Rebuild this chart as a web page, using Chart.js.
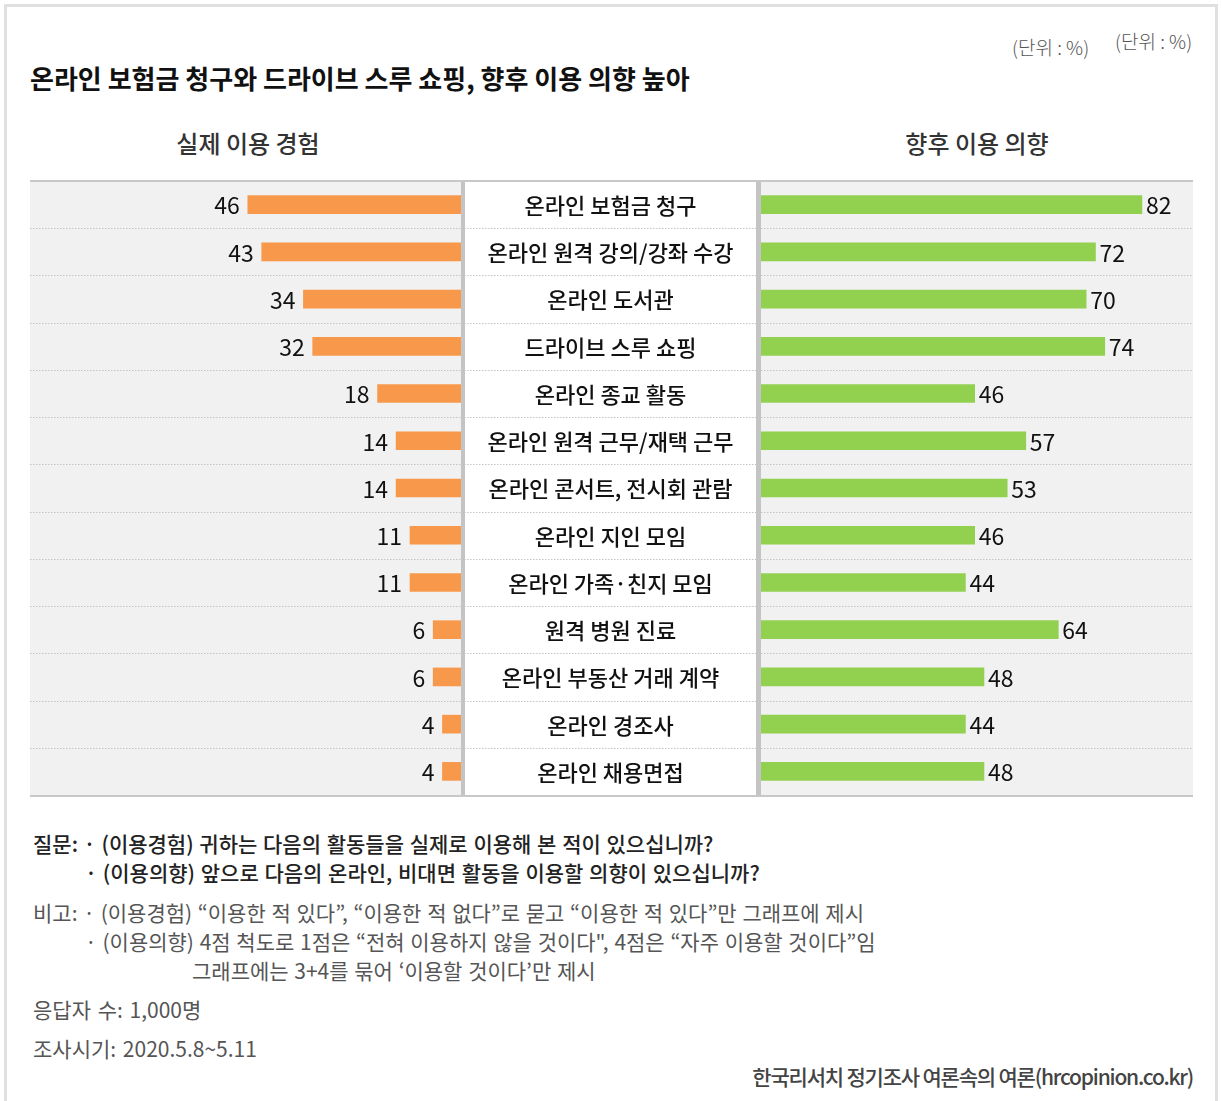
<!DOCTYPE html>
<html><head><meta charset="utf-8">
<script src="https://cdn.jsdelivr.net/npm/chart.js@4.4.1/dist/chart.umd.min.js"></script>
<style>
html,body{margin:0;padding:0;background:#fff;}
body{width:1221px;height:1101px;position:relative;overflow:hidden;font-family:"Noto Sans CJK KR","Noto Sans",sans-serif;}
.t{position:absolute;white-space:nowrap;letter-spacing:0;}
#frame{position:absolute;left:4px;top:4px;width:1208px;height:1200px;border:3px solid #e0e0e0;box-sizing:content-box;}
.cv{position:absolute;}
.n{font-size:21px;line-height:30px;color:#555;font-weight:400;word-spacing:1px;}
</style></head><body>
<div id="frame"></div>
<div class="t" style="left:30px;top:60px;font-size:26px;line-height:36px;font-weight:700;color:#111;">온라인 보험금 청구와 드라이브 스루 쇼핑, 향후 이용 의향 높아</div>
<div class="t" style="left:1012px;top:34px;font-size:19px;line-height:26px;color:#555;font-weight:300;">(단위 : %)</div>
<div class="t" style="left:1115px;top:28px;font-size:19px;line-height:26px;color:#555;font-weight:300;">(단위 : %)</div>
<div class="t" id="hl" style="top:127px;font-size:24px;line-height:32px;color:#333;font-weight:500;"></div>
<div class="t" id="hr" style="top:127px;font-size:24px;line-height:32px;color:#333;font-weight:500;"></div>

<div class="cv" style="left:30px;top:181px;width:431px;height:614px;"><canvas id="left"></canvas></div>
<div class="cv" style="left:461px;top:181px;width:732px;height:614px;"><canvas id="right"></canvas></div>
<div style="position:absolute;left:30px;top:180px;width:1163px;height:2px;background:#c8c8c8;"></div>
<div style="position:absolute;left:30px;top:795px;width:1163px;height:2px;background:#c8c8c8;"></div>

<div class="t n" style="left:33px;top:828px;color:#222;font-weight:500;">질문: · (이용경험) 귀하는 다음의 활동들을 실제로 이용해 본 적이 있으십니까?</div>
<div class="t n" style="left:85px;top:857px;color:#222;font-weight:500;">· (이용의향) 앞으로 다음의 온라인, 비대면 활동을 이용할 의향이 있으십니까?</div>
<div class="t n" style="left:33px;top:897px;">비고: · (이용경험) “이용한 적 있다”, “이용한 적 없다”로 묻고 “이용한 적 있다”만 그래프에 제시</div>
<div class="t n" style="left:85px;top:926px;">· (이용의향) 4점 척도로 1점은 “전혀 이용하지 않을 것이다", 4점은 “자주 이용할 것이다”임</div>
<div class="t n" style="left:192px;top:955px;">그래프에는 3+4를 묶어 ‘이용할 것이다’만 제시</div>
<div class="t n" style="left:33px;top:994px;word-spacing:2px;">응답자 수: 1,000명</div>
<div class="t n" style="left:33px;top:1033px;word-spacing:2px;">조사시기: 2020.5.8~5.11</div>
<div class="t" style="right:28px;top:1061px;font-size:21px;line-height:30px;color:#444;font-weight:500;letter-spacing:-1.2px;">한국리서치 정기조사 여론속의 여론(hrcopinion.co.kr)</div>

<script>
const categories = ["온라인 보험금 청구","온라인 원격 강의/강좌 수강","온라인 도서관","드라이브 스루 쇼핑","온라인 종교 활동","온라인 원격 근무/재택 근무","온라인 콘서트, 전시회 관람","온라인 지인 모임","온라인 가족·친지 모임","원격 병원 진료","온라인 부동산 거래 계약","온라인 경조사","온라인 채용면접"];
const experience = [46,43,34,32,18,14,14,11,11,6,6,4,4];
const intention = [82,72,70,74,46,57,53,46,44,64,48,44,48];
const seriesNames = ["실제 이용 경험","향후 이용 의향"];

const FONT = '"Noto Sans CJK KR","Noto Sans",sans-serif';
const hl = document.getElementById('hl'); hl.textContent = seriesNames[0];
const hr = document.getElementById('hr'); hr.textContent = seriesNames[1];
hl.style.left = '248px'; hl.style.transform = 'translateX(-50%)';
hr.style.left = '977px'; hr.style.transform = 'translateX(-50%)';

function rowLines(chart, x0, x1){
  const ctx = chart.ctx, y = chart.scales.y;
  ctx.save();
  ctx.strokeStyle = '#c4c4c4'; ctx.lineWidth = 1; ctx.setLineDash([1.5,1.5]);
  for (let i = 1; i < categories.length; i++){
    const p = Math.round((y.getPixelForValue(i-1) + y.getPixelForValue(i)) / 2) + 0.5;
    ctx.beginPath(); ctx.moveTo(x0, p); ctx.lineTo(x1, p); ctx.stroke();
  }
  ctx.restore();
}

const leftPlugin = {
  id:'leftDeco',
  beforeDatasetsDraw(chart){
    const ctx = chart.ctx, a = chart.chartArea;
    ctx.save(); ctx.fillStyle = '#f1f1f1'; ctx.fillRect(a.left, a.top, a.right-a.left, a.bottom-a.top); ctx.restore();
    rowLines(chart, a.left, a.right);
  },
  afterDatasetsDraw(chart){
    const ctx = chart.ctx, meta = chart.getDatasetMeta(0);
    ctx.save(); ctx.font = '400 23px ' + FONT; ctx.fillStyle = '#111'; ctx.textAlign = 'right'; ctx.textBaseline = 'middle';
    meta.data.forEach((b,i) => ctx.fillText(String(experience[i]), b.x - 8, b.y + 1));
    ctx.restore();
  }
};
const rightPlugin = {
  id:'rightDeco',
  beforeDatasetsDraw(chart){
    const ctx = chart.ctx, a = chart.chartArea;
    ctx.save();
    ctx.fillStyle = '#f1f1f1'; ctx.fillRect(a.left, a.top, a.right-a.left, a.bottom-a.top);
    ctx.fillStyle = '#fff'; ctx.fillRect(4, a.top, a.left-9, a.bottom-a.top);
    ctx.restore();
    rowLines(chart, 0, a.right);
    ctx.save();
    ctx.fillStyle = '#c4c4c4';
    ctx.fillRect(0, a.top, 4, a.bottom-a.top);
    ctx.fillRect(a.left-5, a.top, 5, a.bottom-a.top);
    const y = chart.scales.y;
    ctx.font = '500 22px ' + FONT; ctx.fillStyle = '#111'; ctx.textAlign = 'center'; ctx.textBaseline = 'middle';
    const cx = (4 + a.left - 5) / 2;
    categories.forEach((c,i) => ctx.fillText(c, cx, y.getPixelForValue(i) + 1));
    ctx.restore();
  },
  afterDatasetsDraw(chart){
    const ctx = chart.ctx, meta = chart.getDatasetMeta(0);
    ctx.save(); ctx.font = '400 23px ' + FONT; ctx.fillStyle = '#111'; ctx.textAlign = 'left'; ctx.textBaseline = 'middle';
    meta.data.forEach((b,i) => ctx.fillText(String(intention[i]), b.x + 4, b.y + 1));
    ctx.restore();
  }
};

const common = {
  indexAxis:'y', responsive:true, maintainAspectRatio:false, animation:false,
  plugins:{legend:{display:false}, tooltip:{enabled:false}},
  events:[]
};

new Chart(document.getElementById('left'), {
  type:'bar',
  data:{labels:categories, datasets:[{label:seriesNames[0], data:experience, backgroundColor:'#f7984a', barThickness:18, borderWidth:0}]},
  options:Object.assign({}, common, {
    layout:{padding:0},
    scales:{
      x:{display:false, min:0, max:93, reverse:true},
      y:{display:false}
    }
  }),
  plugins:[leftPlugin]
});

new Chart(document.getElementById('right'), {
  type:'bar',
  data:{labels:categories, datasets:[{label:seriesNames[1], data:intention, backgroundColor:'#92d050', barThickness:18, borderWidth:0}]},
  options:Object.assign({}, common, {
    layout:{padding:{left:300, right:0, top:0, bottom:0}},
    scales:{
      x:{display:false, min:0, max:93},
      y:{display:false}
    }
  }),
  plugins:[rightPlugin]
});
</script>
</body></html>
